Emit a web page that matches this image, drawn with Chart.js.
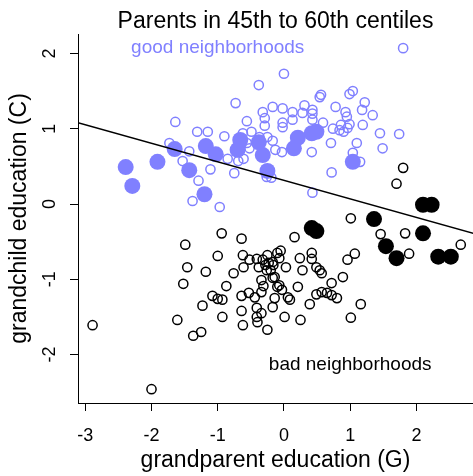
<!DOCTYPE html>
<html><head><meta charset="utf-8">
<script src="https://cdn.jsdelivr.net/npm/chart.js@4"></script>
<style>html,body{margin:0;padding:0;background:#fff;} canvas{display:block;}</style>
</head><body>
<canvas id="c" width="473" height="476"></canvas>
<script>
const xTicks = [-3, -2, -1, 0, 1, 2];
const yTicks = [-2, -1, 0, 1, 2];

// open purple circles (good neighborhoods)
const goodOpenG = [1.80,0.00,-0.38,0.56,1.04,0.99,1.22,-0.73,-0.17,-0.02,
  0.13,0.28,0.31,0.43,0.43,0.78,0.93,0.95,1.18,1.34,
  -0.32,-0.29,-1.64,-0.56,-0.29,-0.02,-0.02,0.13,0.43,0.59,
  0.86,0.99,1.19,0.90,0.96,-1.31,-1.15,-0.90,-0.62,-0.49,
  -0.37,-0.25,-0.17,-1.73,-0.56,-0.52,-0.13,-0.03,-1.43,-1.53,
  -1.11,-1.29,-1.38,-0.97,-0.85,-0.75,-0.61,-0.69,-0.26,-0.19,
  0.42,0.71,0.74,0.84,1.10,1.04,1.15,1.45,1.49,1.74,
  0.72,0.43,0.54];
const goodOpenC = [2.07,1.73,1.58,1.45,1.50,1.46,1.35,1.34,1.29,1.27,
  1.22,1.21,1.31,1.25,1.20,1.29,1.22,1.16,1.25,1.18,
  1.22,1.14,1.09,1.10,1.04,1.08,1.02,1.12,1.12,1.08,
  1.05,1.06,1.05,0.96,1.01,0.96,0.96,0.90,0.94,0.96,
  0.89,0.89,0.84,0.81,0.81,0.74,0.72,0.69,0.70,0.57,
  0.46,0.31,0.04,-0.04,0.60,0.41,0.60,0.57,0.36,0.35,
  0.69,0.81,1.00,0.98,0.81,0.68,0.56,0.94,0.74,0.93,
  0.42,0.15,1.42];

// filled purple circles
const goodFilledG = [-2.39,-2.29,-1.91,-1.65,-1.43,-1.20,-1.18,-1.03,-0.66,-0.70,
  -0.38,-0.32,-0.25,0.15,0.21,0.42,0.49,1.04];
const goodFilledC = [0.49,0.24,0.56,0.73,0.45,0.13,0.77,0.66,0.85,0.72,
  0.82,0.65,0.44,0.74,0.88,0.94,0.96,0.56];

// open black circles (bad neighborhoods)
const badOpenG = [-2.89,-2.00,-1.61,-1.52,-1.49,-1.46,-1.37,-1.25,-1.23,-1.18,
  -1.08,-1.00,-0.93,-1.00,-0.94,-0.93,-0.87,-0.76,-0.64,-0.62,
  -0.61,-0.64,-0.64,-0.62,-0.53,-0.52,-0.44,-0.41,-0.38,-0.41,
  -0.41,-0.40,-0.34,-0.34,-0.26,-0.25,-0.25,-0.17,-0.17,-0.17,
  -0.10,-0.10,-0.14,-0.07,-0.05,-0.16,-0.07,-0.03,0.01,0.03,
  0.06,0.09,0.16,0.21,0.24,0.25,0.28,0.39,0.42,0.42,
  0.49,0.54,0.57,0.49,0.57,0.65,0.72,0.80,0.72,0.89,
  0.96,1.01,1.07,1.01,1.16,1.46,1.70,1.80,1.83,1.89,
  2.67,-0.28,-0.31,-0.32,-0.20,-0.14,-0.34,-0.23];
const badOpenC = [-1.61,-2.46,-1.54,-1.06,-0.54,-0.84,-1.75,-1.70,-1.35,-0.90,
  -1.22,-1.26,-1.27,-0.69,-0.39,-1.50,-1.09,-0.92,-0.46,-0.68,
  -0.84,-1.22,-1.42,-1.61,-1.18,-0.74,-1.24,-0.73,-0.84,-1.38,
  -1.50,-1.57,-1.01,-1.17,-0.88,-0.68,-1.67,-0.77,-0.98,-1.37,
  -0.65,-1.10,-1.25,-0.72,-0.62,-0.81,-1.08,-1.14,-1.50,-0.84,
  -1.24,-1.27,-0.44,-1.10,-0.72,-1.54,-0.88,-1.33,-0.65,-0.73,
  -0.84,-0.88,-0.92,-1.20,-1.17,-1.18,-1.21,-1.25,-1.05,-0.97,
  -0.74,-0.19,-0.66,-1.51,-1.33,-0.40,0.27,0.48,-0.39,-0.66,
  -0.54,-0.81,-1.09,-0.74,-0.88,-0.97,-1.45,-0.78];

// filled black circles
const badFilledG = [0.42,0.49,1.36,2.10,2.23,2.10,1.54,1.70,2.33,2.52];
const badFilledC = [-0.32,-0.36,-0.20,-0.01,-0.01,-0.39,-0.56,-0.72,-0.70,-0.70];

// regression line end points
const lineG = [-3.11, 2.86];
const lineC = [1.08, -0.39];

const xRange = [-3.11, 2.855];
const yRange = [-2.643, 2.258];

const PURPLE = '#8080ff';
const FONT = "'Liberation Sans', Arial, Helvetica, sans-serif";
const notes = [
  {text: 'good neighborhoods', g: -1.0, c: 2.08, color: PURPLE},
  {text: 'bad neighborhoods', g: 1.0, c: -2.14, color: '#000'}
];

const pair = (gs, cs) => gs.map((g, i) => ({x: g, y: cs[i]}));

const notePlugin = {
  id: 'notes',
  afterDatasetsDraw(chart) {
    const {ctx, scales: {x, y}} = chart;
    ctx.save();
    ctx.font = '19px ' + FONT;
    ctx.textAlign = 'center';
    ctx.textBaseline = 'middle';
    notes.forEach(n => {
      ctx.fillStyle = n.color;
      ctx.fillText(n.text, x.getPixelForValue(n.g), y.getPixelForValue(n.c));
    });
    ctx.restore();
  }
};

new Chart(document.getElementById('c'), {
  type: 'scatter',
  data: {
    datasets: [
      {data: pair(lineG, lineC), showLine: true, borderColor: '#000', borderWidth: 1.5, pointRadius: 0, fill: false},
      {data: pair(badFilledG, badFilledC), backgroundColor: '#000', borderColor: '#000', borderWidth: 0, pointRadius: 8},
      {data: pair(goodFilledG, goodFilledC), backgroundColor: PURPLE, borderColor: PURPLE, borderWidth: 0, pointRadius: 8},
      {data: pair(badOpenG, badOpenC), backgroundColor: 'rgba(0,0,0,0)', borderColor: '#000', borderWidth: 1.5, pointRadius: 4.6},
      {data: pair(goodOpenG, goodOpenC), backgroundColor: 'rgba(0,0,0,0)', borderColor: PURPLE, borderWidth: 1.5, pointRadius: 4.6}
    ]
  },
  options: {
    responsive: false,
    animation: false,
    devicePixelRatio: 1,
    layout: {padding: 0, autoPadding: false},
    plugins: {
      legend: {display: false},
      tooltip: {enabled: false},
      title: {
        display: true, text: 'Parents in 45th to 60th centiles', fullSize: false, color: '#000',
        font: {family: FONT, size: 23, weight: 'normal', lineHeight: 1},
        padding: {top: 9.8, bottom: 1.2}
      }
    },
    scales: {
      x: {
        type: 'linear', position: 'bottom', min: xRange[0], max: xRange[1],
        afterBuildTicks: s => { s.ticks = xTicks.map(v => ({value: v})); },
        afterFit: s => { s.height = 73; },
        grid: {display: true, drawOnChartArea: false, drawTicks: true, tickLength: 8, color: '#000', lineWidth: 1},
        border: {display: true, color: '#000', width: 1},
        ticks: {color: '#000', font: {family: FONT, size: 18}, padding: 14, maxRotation: 0, minRotation: 0, callback: v => String(v)},
        title: {display: true, text: 'grandparent education (G)', color: '#000', font: {family: FONT, size: 23}, padding: {top: 0, bottom: 1.2}}
      },
      y: {
        type: 'linear', position: 'left', min: yRange[0], max: yRange[1],
        afterBuildTicks: s => { s.ticks = yTicks.map(v => ({value: v})); },
        afterFit: s => { s.width = 78; },
        grid: {display: true, drawOnChartArea: false, drawTicks: true, tickLength: 8, color: '#000', lineWidth: 1},
        border: {display: true, color: '#000', width: 1},
        ticks: {color: '#000', font: {family: FONT, size: 18}, padding: 12, minRotation: 90, maxRotation: 90, crossAlign: 'center', callback: v => String(v)},
        title: {display: true, text: 'grandchild education (C)', color: '#000', font: {family: FONT, size: 23}, padding: {top: 6.2, bottom: 0}}
      }
    }
  },
  plugins: [notePlugin]
});
</script>
</body></html>
